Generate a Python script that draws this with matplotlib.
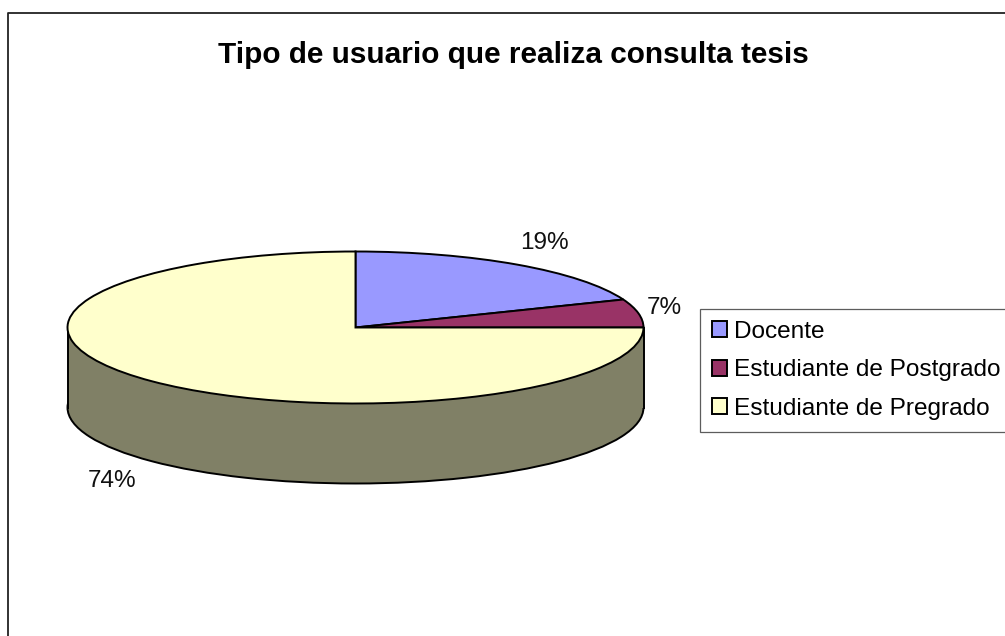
import matplotlib
matplotlib.use("Agg")
import matplotlib.pyplot as plt
from matplotlib.patches import Rectangle

plt.rcParams["font.family"] = ["Liberation Sans", "DejaVu Sans"]

categories = ["Docente", "Estudiante de Postgrado", "Estudiante de Pregrado"]
values = [19, 6, 75]
pct_labels = ["19%", "7%", "74%"]
colors = ["#9999ff", "#993366", "#ffffcc"]
side_color = "#808066"

W, H = 1005, 636
cx, cy = 355.5, 327.5    # pie centre, px
rx, ry = 288, 76         # ellipse radii, px
depth = 80 / ry

fig = plt.figure(figsize=(W / 100, H / 100), dpi=100)
ax = fig.add_axes([0, 0, 1, 1])

# side of the pie: a lower copy plus the band between the two
ax.pie([1], radius=1, center=(0, -depth), colors=[side_color],
       wedgeprops=dict(edgecolor="black", linewidth=1.4))
ax.add_patch(Rectangle((-1, -depth), 2, depth, facecolor=side_color, edgecolor="none", zorder=1.5))
ax.plot([-1, -1], [0, -depth], color="black", lw=1.4, zorder=1.6)
ax.plot([1, 1], [0, -depth], color="black", lw=1.4, zorder=1.6)

wedges, _ = ax.pie(values, startangle=90, counterclock=False, colors=colors,
                   wedgeprops=dict(edgecolor="black", linewidth=1.4, zorder=2))

ax.set_aspect("auto")
ax.set_xlim(-cx / rx, (W - cx) / rx)
ax.set_ylim((cy - H) / ry, cy / ry)
ax.axis("off")

# chart frame
fig.add_artist(plt.Line2D([8 / W, 8 / W, 1 + 2 / W], [-0.01, 1 - 13 / H, 1 - 13 / H],
                          color="#222222", lw=1.3))

fig.text(513 / W, 1 - 55 / H, "Tipo de usuario que realiza consulta tesis",
         fontsize=21.4, fontweight="bold", ha="center", va="center")

label_pos = [(544, 243), (664, 308), (112, 481)]
for lab, (px, py) in zip(pct_labels, label_pos):
    fig.text(px / W, 1 - py / H, lab, fontsize=17.5, ha="center", va="center", color="#111111")

# legend runs off the right edge of the picture, as in the source
leg = fig.legend(wedges, categories, loc="upper left", mode="expand",
                 bbox_to_anchor=(700 / W, 1 - 431 / H, 330 / W, 122 / H), bbox_transform=fig.transFigure,
                 fontsize=17.6, frameon=True, fancybox=False, edgecolor="#333333",
                 handlelength=0.62, handleheight=0.62, handletextpad=0.3,
                 labelspacing=0.68, borderpad=0.48, borderaxespad=0)
leg.get_frame().set_linewidth(0.9)

fig.savefig("out.png", dpi=100)
